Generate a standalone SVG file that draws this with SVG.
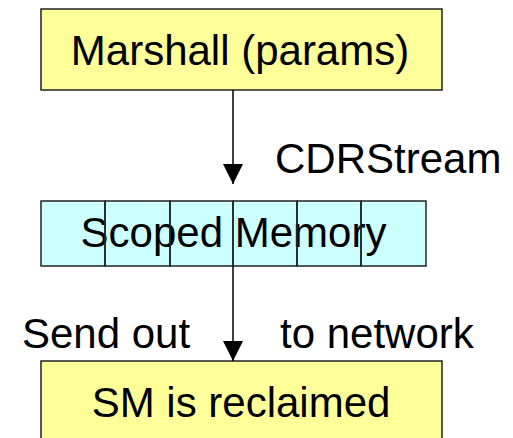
<svg xmlns="http://www.w3.org/2000/svg" width="513" height="438" viewBox="0 0 513 438">
<style>
.box{fill:#ffff99;stroke:#222;stroke-width:1.5}
.cellbg{fill:#ccffff;stroke:none}
.cell{fill:none;stroke:#222;stroke-width:1.5}
.t{font-family:"Liberation Sans",Arial,sans-serif;font-size:42px;fill:#000}
.c{text-anchor:middle}
.conn{stroke:#000;stroke-width:1.5;fill:none}
</style>
<defs>
<marker id="ah" markerUnits="userSpaceOnUse" markerWidth="22" markerHeight="22" refX="20" refY="10" orient="auto">
<path d="M0,0 L20,10 L0,20 Z" fill="#000"/>
</marker>
</defs>
<rect width="513" height="438" fill="#fff"/>
<g id="marshall">
<rect class="box" x="41" y="9" width="401" height="81"/>
<text class="t c" x="240" y="65">Marshall (params)</text>
</g>
<g id="scoped-memory">
<rect class="cellbg" x="41" y="201" width="385" height="65"/>
<text class="t c" x="233.5" y="247">Scoped Memory</text>
<rect class="cell" x="41" y="201" width="64" height="65"/>
<rect class="cell" x="105" y="201" width="65" height="65"/>
<rect class="cell" x="170" y="201" width="63" height="65"/>
<rect class="cell" x="233" y="201" width="64" height="65"/>
<rect class="cell" x="297" y="201" width="64" height="65"/>
<rect class="cell" x="361" y="201" width="65" height="65"/>
</g>
<g id="reclaimed">
<rect class="box" x="41" y="361" width="401" height="82"/>
<text class="t c" x="241" y="417">SM is reclaimed</text>
</g>
<g id="connectors">
<line class="conn" x1="233" y1="90" x2="233" y2="184" marker-end="url(#ah)"/>
<line class="conn" x1="233" y1="266" x2="233" y2="361" marker-end="url(#ah)"/>
</g>
<g id="labels">
<text class="t" x="275" y="173">CDRStream</text>
<text class="t" x="22" y="348">Send out</text>
<text class="t" x="280" y="348">to network</text>
</g>
</svg>
